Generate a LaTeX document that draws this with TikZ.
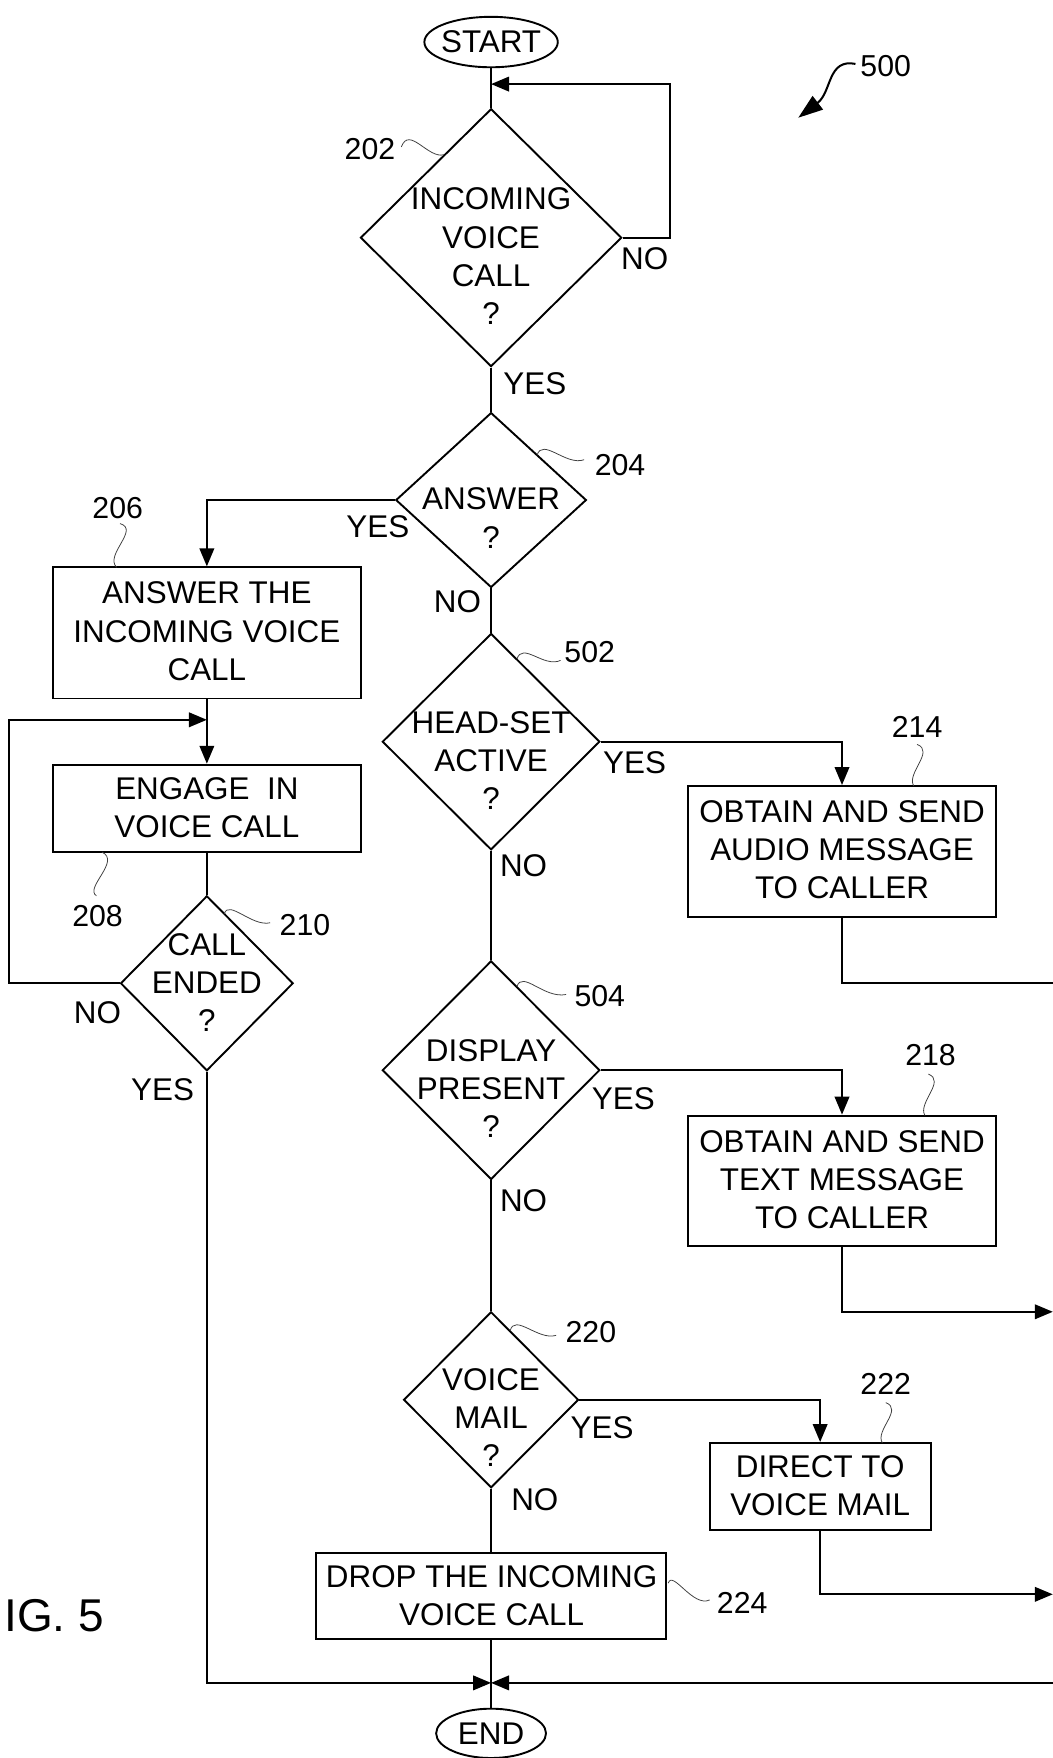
\documentclass[tikz,border=0pt]{standalone}
\usepackage{fontspec}
\setmainfont{Liberation Sans}
\usetikzlibrary{shapes.geometric,arrows.meta}
\begin{document}
\begin{tikzpicture}[x=1pt,y=-1pt,
  line width=1.7pt,
  every node/.style={font=\fontsize{28}{34}\selectfont, inner sep=0pt},
  dia/.style={draw, diamond, inner sep=0pt, line width=1.7pt},
  boxn/.style={draw, rectangle, inner sep=0pt, line width=1.7pt},
  term/.style={draw, ellipse, inner sep=0pt, line width=1.7pt},
  txt/.style={align=center, inner sep=0pt},
  lbl/.style={inner sep=0pt, font=\fontsize{27}{32}\selectfont},
  arr/.style={-{Triangle[length=16pt,width=13pt]}},
  sq/.style={line width=0.7pt, black!75}
]
\useasboundingbox (0,0) rectangle (939,1568);

% terminals
\node[term, minimum width=119pt, minimum height=45pt] (start) at (438,37.5) {};
\node[txt] (tstart) at (438,37.5) {START};
\node[term, minimum width=98pt, minimum height=44pt] (end) at (438,1546) {};
\node[txt] (tend) at (438,1546) {END};

% decisions
\node[dia, minimum width=233pt, minimum height=230pt] (d202) at (438,212) {};
\node[txt] (t202) at (438,228.5) {INCOMING\\VOICE\\CALL\\?};
\node[dia, minimum width=170pt, minimum height=156pt] (d204) at (438,446) {};
\node[txt] (t204) at (438,462) {ANSWER\\?};
\node[dia, minimum width=194pt, minimum height=193pt] (d502) at (438,661.5) {};
\node[txt] (t502) at (438,678) {HEAD-SET\\ACTIVE\\?};
\node[dia, minimum width=194pt, minimum height=195pt] (d504) at (438,954.5) {};
\node[txt] (t504) at (438,971) {DISPLAY\\PRESENT\\?};
\node[dia, minimum width=156pt, minimum height=157pt] (d220) at (438,1248.5) {};
\node[txt] (t220) at (438,1264) {VOICE\\MAIL\\?};
\node[dia, minimum width=154pt, minimum height=156pt] (d210) at (184.5,877) {};
\node[txt] (t210) at (184.5,876) {CALL\\ENDED\\?};

% process boxes
\node[boxn, minimum width=275pt, minimum height=117pt] (b206) at (184.5,564.5) {};
\node[txt] (t206) at (184.5,563) {ANSWER THE\\INCOMING VOICE\\CALL};
\node[boxn, minimum width=275pt, minimum height=78pt] (b208) at (184.5,721) {};
\node[txt] (t208) at (184.5,720) {ENGAGE~ IN\\VOICE CALL};
\node[boxn, minimum width=274pt, minimum height=117pt] (b214) at (751,759.5) {};
\node[txt] (t214) at (751,758) {OBTAIN AND SEND\\AUDIO MESSAGE\\TO CALLER};
\node[boxn, minimum width=274pt, minimum height=116pt] (b218) at (751,1053) {};
\node[txt] (t218) at (751,1052) {OBTAIN AND SEND\\TEXT MESSAGE\\TO CALLER};
\node[boxn, minimum width=197pt, minimum height=78pt] (b222) at (731.5,1326) {};
\node[txt] (t222) at (731.5,1325) {DIRECT TO\\VOICE MAIL};
\node[boxn, minimum width=312pt, minimum height=77pt] (b224) at (438,1423.5) {};
\node[txt] (t224) at (438.5,1423) {DROP THE INCOMING\\VOICE CALL};

% coordinates
\coordinate (j1) at (438,75);
\coordinate (j2) at (184.5,642);
\coordinate (jend) at (438,1501);
\coordinate (e1) at (939,877);
\coordinate (e2) at (939,1170);
\coordinate (e3) at (939,1422);
\coordinate (e4) at (939,1501);

% connectors
\draw (start) -- (d202.north);
\draw[arr] (d202.east) -- ++(42,0) |- (j1);
\draw (d202.south) -- (d204.north);
\draw[arr] (d204.west) -| (b206.north);
\draw (d204.south) -- (d502.north);
\draw[arr] (d502.east) -| (b214.north);
\draw (d502.south) -- (d504.north);
\draw[arr] (d504.east) -| (b218.north);
\draw (d504.south) -- (d220.north);
\draw[arr] (d220.east) -| (b222.north);
\draw (d220.south) -- (b224.north);
\draw (b224.south) -- (end.north);
\draw[arr] (b206.south) -- (b208.north);
\draw (b208.south) -- (d210.north);
\draw[arr] (d210.west) -- (8,877) |- (j2);
\draw[arr] (d210.south) |- (jend);
\draw (b214.south) |- (e1);
\draw[arr] (b218.south) |- (e2);
\draw[arr] (b222.south) |- (e3);
\draw[arr] (e4) -- (jend);

% branch labels
\node (n202) at (575,231) {NO};
\node (y202) at (477,342) {YES};
\node (y204) at (337,470) {YES};
\node (n204) at (408,537) {NO};
\node (y502) at (566,680) {YES};
\node (n502) at (467,772) {NO};
\node (y504) at (556,980) {YES};
\node (n504) at (467,1071) {NO};
\node (y220) at (537,1273) {YES};
\node (n220) at (477,1338) {NO};
\node (n210) at (87,903) {NO};
\node (y210) at (145,972) {YES};

% reference numerals
\node[lbl] (l202) at (330,133) {202};
\node[lbl] (l204) at (553,415) {204};
\node[lbl] (l206) at (105,453) {206};
\node[lbl] (l208) at (87,817) {208};
\node[lbl] (l210) at (272,825) {210};
\node[lbl] (l502) at (526,582) {502};
\node[lbl] (l504) at (535,888) {504};
\node[lbl] (l214) at (818,648) {214};
\node[lbl] (l218) at (830,941) {218};
\node[lbl] (l220) at (527,1188) {220};
\node[lbl] (l222) at (790,1234) {222};
\node[lbl] (l224) at (662,1430) {224};
\node[lbl] (l500) at (790,59) {500};

% squiggles
\draw[sq] (358,131) .. controls (365,112) and (382,142) .. (396,138);
\draw[sq] (479,406) .. controls (484,390) and (505,416) .. (521,410);
\draw[sq] (461,588) .. controls (466,572) and (485,596) .. (500,589);
\draw[sq] (461,880) .. controls (466,865) and (485,891) .. (505,887);
\draw[sq] (455,1187) .. controls (459,1171) and (480,1196) .. (496,1191);
\draw[sq] (200,815) .. controls (204,802) and (225,827) .. (241,823);
\draw[sq] (107,467) .. controls (125,472) and (93,495) .. (104,506);
\draw[sq] (91,760) .. controls (108,768) and (75,792) .. (86,799);
\draw[sq] (818,664) .. controls (834,670) and (808,690) .. (815,701);
\draw[sq] (828,958) .. controls (844,964) and (818,984) .. (825,995);
\draw[sq] (790,1251) .. controls (806,1257) and (780,1276) .. (787,1287);
\draw[sq] (596,1412) .. controls (600,1400) and (618,1434) .. (633,1427);

% figure pointer 500
\draw[line width=1.8pt, -{Triangle[length=22pt,width=15pt]}] (763,57) .. controls (738,52) and (742,82) .. (712,105);

% figure caption (cropped)
\node[anchor=base west, font=\fontsize{41}{48}\selectfont] (fig) at (3,1455) {IG. 5};
\end{tikzpicture}
\end{document}
